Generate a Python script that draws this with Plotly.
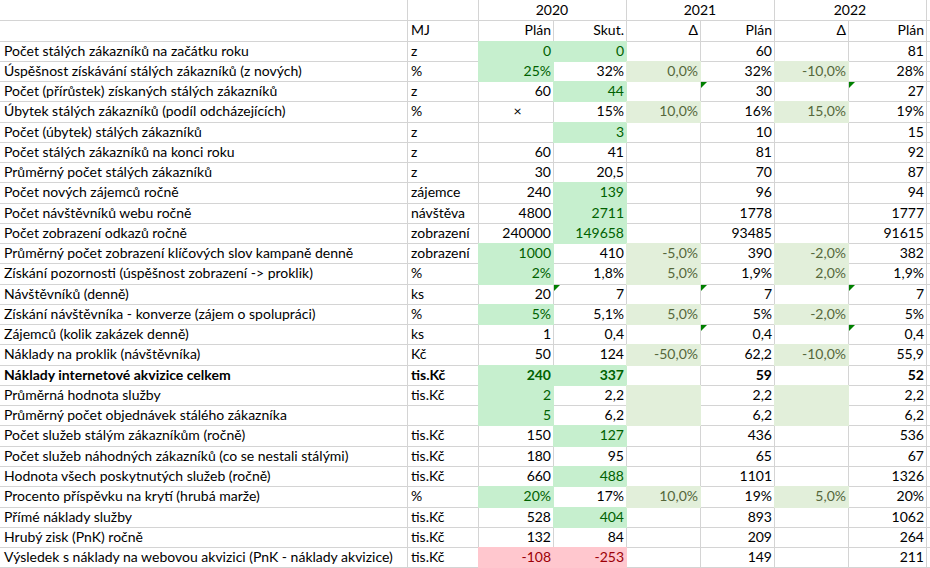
import plotly.graph_objects as go

# ---- data (as displayed in the sheet) ----
labels = [
    "Počet stálých zákazníků na začátku roku",
    "Úspěšnost získávání stálých zákazníků (z nových)",
    "Počet (přírůstek) získaných stálých zákazníků",
    "Úbytek stálých zákazníků (podíl odcházejících)",
    "Počet (úbytek) stálých zákazníků",
    "Počet stálých zákazníků na konci roku",
    "Průměrný počet stálých zákazníků",
    "Počet nových zájemců ročně",
    "Počet návštěvníků webu ročně",
    "Počet zobrazení odkazů ročně",
    "Průměrný počet zobrazení klíčových slov kampaně denně",
    "Získání pozornosti (úspěšnost zobrazení -> proklik)",
    "Návštěvníků (denně)",
    "Získání návštěvníka - konverze (zájem o spolupráci)",
    "Zájemců (kolik zakázek denně)",
    "Náklady na proklik (návštěvníka)",
    "Náklady internetové akvizice celkem",
    "Průměrná hodnota služby",
    "Průměrný počet objednávek stálého zákazníka",
    "Počet služeb stálým zákazníkům (ročně)",
    "Počet služeb náhodných zákazníků (co se nestali stálými)",
    "Hodnota všech poskytnutých služeb (ročně)",
    "Procento příspěvku na krytí (hrubá marže)",
    "Přímé náklady služby",
    "Hrubý zisk (PnK) ročně",
    "Výsledek s náklady na webovou akvizici (PnK - náklady akvizice)",
]
units = ["z", "%", "z", "%", "z", "z", "z", "zájemce", "návštěva", "zobrazení",
         "zobrazení", "%", "ks", "%", "ks", "Kč", "tis.Kč", "tis.Kč", "",
         "tis.Kč", "tis.Kč", "tis.Kč", "%", "tis.Kč", "tis.Kč", "tis.Kč"]
plan_2020 = ["0", "25%", "60", "×", "", "60", "30", "240", "4800", "240000",
             "1000", "2%", "20", "5%", "1", "50", "240", "2", "5",
             "150", "180", "660", "20%", "528", "132", "-108"]
skut_2020 = ["0", "32%", "44", "15%", "3", "41", "20,5", "139", "2711", "149658",
             "410", "1,8%", "7", "5,1%", "0,4", "124", "337", "2,2", "6,2",
             "127", "95", "488", "17%", "404", "84", "-253"]
delta_2021 = ["", "0,0%", "", "10,0%", "", "", "", "", "", "",
              "-5,0%", "5,0%", "", "5,0%", "", "-50,0%", "", "", "",
              "", "", "", "10,0%", "", "", ""]
plan_2021 = ["60", "32%", "30", "16%", "10", "81", "70", "96", "1778", "93485",
             "390", "1,9%", "7", "5%", "0,4", "62,2", "59", "2,2", "6,2",
             "436", "65", "1101", "19%", "893", "209", "149"]
delta_2022 = ["", "-10,0%", "", "15,0%", "", "", "", "", "", "",
              "-2,0%", "2,0%", "", "-2,0%", "", "-10,0%", "", "", "",
              "", "", "", "5,0%", "", "", ""]
plan_2022 = ["81", "28%", "27", "19%", "15", "92", "87", "94", "1777", "91615",
             "382", "1,9%", "7", "5%", "0,4", "55,9", "52", "2,2", "6,2",
             "536", "67", "1326", "20%", "1062", "264", "211"]

years = ["2020", "2021", "2022"]
sub_headers = ["MJ", "Plán", "Skut.", "Δ", "Plán", "Δ", "Plán"]

columns = [labels, units, plan_2020, skut_2020, delta_2021, plan_2021, delta_2022, plan_2022]

# ---- styling ----
grid_color = '#D4D4D4'
good_fill, good_text = '#C6EFCE', '#006100'
bad_fill, bad_text = '#FFC7CE', '#9C0006'
delta_fill, delta_text = '#E2EFDA', '#55673A'
font_family = 'Lato'
font_size = 14

col_edges = [0, 407, 478, 553, 626, 700, 774, 848, 926]
row_h = 20.26
n_rows = len(labels) + 2
bold_rows = [16]

# conditional formats: column index -> (row indices, fill, text colour)
formats = [
    (2, [0, 1, 10, 11, 13, 16, 17, 18, 22], good_fill, good_text),
    (3, [0, 2, 4, 7, 8, 9, 16, 19, 21, 23], good_fill, good_text),
    (2, [25], bad_fill, bad_text),
    (3, [25], bad_fill, bad_text),
    (4, [1, 3, 10, 11, 13, 15, 17, 18, 22], delta_fill, delta_text),
    (6, [1, 3, 10, 11, 13, 15, 17, 18, 22], delta_fill, delta_text),
]
# green error-indicator triangles (row, column)
flags = [(2, 5), (2, 7), (12, 3), (12, 5), (12, 7), (14, 5), (14, 7)]


def row_top(r):
    return round(r * row_h)


shapes = []
# gridlines
for r in range(1, n_rows + 1):
    y = row_top(r) + 0.5
    shapes.append(dict(type='line', x0=0, x1=930, y0=y, y1=y,
                       line=dict(color=grid_color, width=1), layer='below'))
for c, x in enumerate(col_edges[1:], start=1):
    merged_top = c in (3, 5, 7)
    y_start = row_top(1) if merged_top else 0
    shapes.append(dict(type='line', x0=x + 0.5, x1=x + 0.5, y0=y_start, y1=568,
                       line=dict(color=grid_color, width=1), layer='below'))

# cell fills
text_colors = [['#000000'] * len(labels) for _ in columns]
for c, rows, fill, tcol in formats:
    for r in rows:
        shapes.append(dict(type='rect', x0=col_edges[c], x1=col_edges[c + 1] + 1,
                           y0=row_top(r + 2), y1=row_top(r + 3) + 1,
                           fillcolor=fill, line=dict(width=0), layer='below'))
        text_colors[c][r] = tcol

# triangles
for r, c in flags:
    x0 = col_edges[c] + 1
    y0 = row_top(r + 2) + 1
    shapes.append(dict(type='path', path=f'M {x0},{y0} L {x0 + 6},{y0} L {x0},{y0 + 6} Z',
                       fillcolor='#008000', line=dict(width=0), layer='below'))

fig = go.Figure()

row_mid = [(row_top(r + 2) + row_top(r + 3)) / 2 + 1 for r in range(len(labels))]

for c, values in enumerate(columns):
    shown = [f'<b>{v}</b>' if i in bold_rows and v else v for i, v in enumerate(values)]
    if c < 2:
        xs = [col_edges[c] + 4] * len(values)
        pos = 'middle right'
    else:
        xs = [col_edges[c + 1] - 2] * len(values)
        pos = 'middle left'
    if c == 2:
        # the "×" mark is centred in its cell
        xs = [(col_edges[2] + col_edges[3]) / 2 + 6 if v == '×' else x
              for v, x in zip(values, xs)]
    fig.add_trace(go.Scatter(
        x=xs, y=row_mid, text=shown, mode='text', textposition=pos,
        textfont=dict(family=font_family, size=font_size, color=text_colors[c]),
        hoverinfo='skip', showlegend=False))

# header rows
year_x = [(col_edges[2] + col_edges[4]) / 2, (col_edges[4] + col_edges[6]) / 2,
          (col_edges[6] + col_edges[8]) / 2]
fig.add_trace(go.Scatter(
    x=year_x, y=[(row_top(0) + row_top(1)) / 2 + 1] * 3, text=years, mode='text',
    textposition='middle center',
    textfont=dict(family=font_family, size=font_size, color='#000000'),
    hoverinfo='skip', showlegend=False))
sub_x = [col_edges[1] + 4] + [col_edges[c + 1] - 2 for c in range(2, 8)]
fig.add_trace(go.Scatter(
    x=sub_x, y=[(row_top(1) + row_top(2)) / 2 + 1] * len(sub_headers), text=sub_headers,
    mode='text', textposition=['middle right'] + ['middle left'] * 6,
    textfont=dict(family=font_family, size=font_size, color='#000000'),
    hoverinfo='skip', showlegend=False))

fig.update_layout(
    width=930, height=568,
    margin=dict(l=0, r=0, t=0, b=0),
    paper_bgcolor='#FFFFFF',
    plot_bgcolor='#FFFFFF',
    shapes=shapes,
    xaxis=dict(range=[0, 930], visible=False, fixedrange=True),
    yaxis=dict(range=[568, 0], visible=False, fixedrange=True),
)

fig.write_html("out.html", config={"displayModeBar": False},
               post_script="document.body.style.margin='0px';")
